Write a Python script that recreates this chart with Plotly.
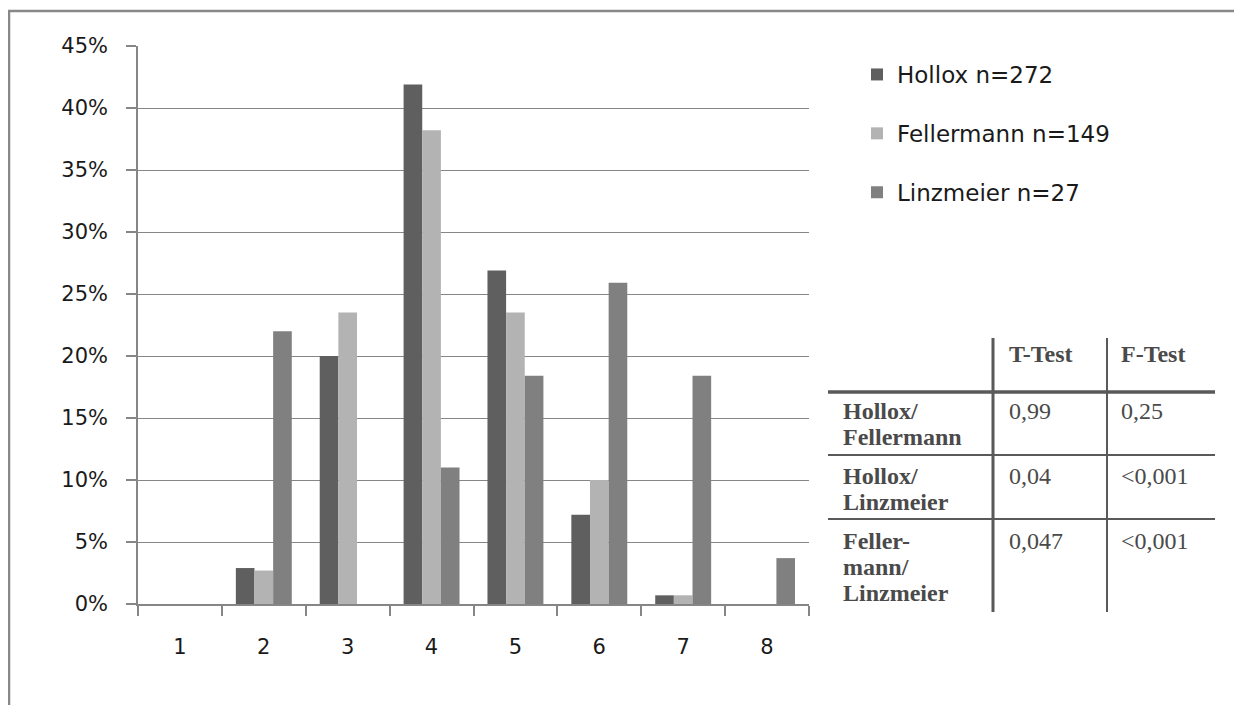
import plotly.graph_objects as go

# ---------------- data ----------------
categories = ["1", "2", "3", "4", "5", "6", "7", "8"]
hollox = [0.0, 0.029, 0.200, 0.419, 0.269, 0.072, 0.007, 0.0]
fellermann = [0.0, 0.027, 0.235, 0.382, 0.235, 0.100, 0.007, 0.0]
linzmeier = [0.0, 0.220, 0.0, 0.110, 0.184, 0.259, 0.184, 0.037]
series_names = ["Hollox n=272", "Fellermann n=149", "Linzmeier n=27"]
y_ticks = [0, 0.05, 0.10, 0.15, 0.20, 0.25, 0.30, 0.35, 0.40, 0.45]

table_header = ["T-Test", "F-Test"]
table_row_labels = [["Hollox/", "Fellermann"], ["Hollox/", "Linzmeier"], ["Feller-", "mann/", "Linzmeier"]]
t_test = ["0,99", "0,04", "0,047"]
f_test = ["0,25", "<0,001", "<0,001"]

# ---------------- layout helpers ----------------
# page body has an 8px margin; coordinates below are screen pixels
OFF = 8
W, H = 1242 - OFF, 705 - OFF
PL, PT = 138, 46          # plot area top-left on screen
PW, PH = 671, 558         # plot area size
L, T = PL - OFF, PT - OFF
R, B = W - L - PW, H - T - PH


def px(x):
    return (x - PL) / PW


def py(y):
    return (PT + PH - y) / PH


colors = ["#5f5f5f", "#b3b3b3", "#808080"]

fig = go.Figure()
for i, (name, vals) in enumerate(zip(series_names, [hollox, fellermann, linzmeier])):
    fig.add_trace(go.Bar(
        x=categories, y=vals, name=name,
        marker=dict(color=colors[i], line=dict(width=0)),
        legendgroup=f"g{i}",
    ))

shapes = []
# outer frame
frame = dict(color="#888888", width=2.5)
shapes.append(dict(type="line", xref="paper", yref="paper", x0=px(9), x1=px(9), y0=py(11), y1=py(720), line=frame))
shapes.append(dict(type="line", xref="paper", yref="paper", x0=px(8), x1=px(1260), y0=py(11), y1=py(11), line=frame))

# table lines
tcol = "#595959"
shapes.append(dict(type="line", xref="paper", yref="paper", x0=px(993), x1=px(993), y0=py(338), y1=py(612), line=dict(color=tcol, width=3)))
shapes.append(dict(type="line", xref="paper", yref="paper", x0=px(1107), x1=px(1107), y0=py(338), y1=py(612), line=dict(color=tcol, width=2)))
shapes.append(dict(type="line", xref="paper", yref="paper", x0=px(828), x1=px(1215), y0=py(392), y1=py(392), line=dict(color=tcol, width=3.5)))
for yy in (455, 519):
    shapes.append(dict(type="line", xref="paper", yref="paper", x0=px(828), x1=px(1215), y0=py(yy), y1=py(yy), line=dict(color=tcol, width=2)))

annotations = []
serif = "Liberation Serif"
tfont_b = dict(family=serif, size=24, color="#4a4a4a", weight="bold")
tfont = dict(family=serif, size=24, color="#4a4a4a")


def ann(text, x, y, font):
    annotations.append(dict(text=text.replace("<", "&lt;"), x=px(x), y=py(y), xref="paper", yref="paper",
                            xanchor="left", yanchor="middle", showarrow=False, font=font, borderpad=0))


col_x = [1008, 1120]
for j, h in enumerate(table_header):
    ann(h, col_x[j], 354, tfont_b)

row_line_y = [[411, 437], [476, 502], [541, 567, 593]]
for r, lines in enumerate(table_row_labels):
    for k, t in enumerate(lines):
        ann(t, 842, row_line_y[r][k], tfont_b)
    ann(t_test[r], col_x[0], row_line_y[r][0], tfont)
    ann(f_test[r], col_x[1], row_line_y[r][0], tfont)

axis_col = "#868686"
tick_font = dict(family="DejaVu Sans", size=21, color="#1a1a1a")

fig.update_layout(
    width=W, height=H,
    margin=dict(l=L, r=R, t=T, b=B, pad=0),
    paper_bgcolor="white", plot_bgcolor="white",
    barmode="group", bargap=0.333, bargroupgap=0,
    showlegend=True,
    legend=dict(x=px(857), y=py(53), xanchor="left", yanchor="top",
                font=dict(family="DejaVu Sans", size=23, color="#1a1a1a"),
                traceorder="grouped", tracegroupgap=26, itemclick=False,
                bgcolor="rgba(0,0,0,0)"),
    xaxis=dict(type="category", tickson="boundaries", ticks="outside", ticklen=10, tickcolor=axis_col,
               tickwidth=1.5, showline=True, linecolor=axis_col, linewidth=1.5, showgrid=False,
               tickfont=tick_font, ticklabelstandoff=23, fixedrange=True),
    yaxis=dict(range=[0, 0.45], tickvals=y_ticks, tickformat=".0%", ticks="outside", ticklen=10,
               tickcolor=axis_col, tickwidth=1.5, showline=True, linecolor=axis_col, linewidth=1.5,
               showgrid=True, gridcolor=axis_col, gridwidth=1.2, zeroline=False,
               tickfont=tick_font, ticklabelstandoff=14, fixedrange=True),
    shapes=shapes,
    annotations=annotations,
)

fig.write_html("out.html")
